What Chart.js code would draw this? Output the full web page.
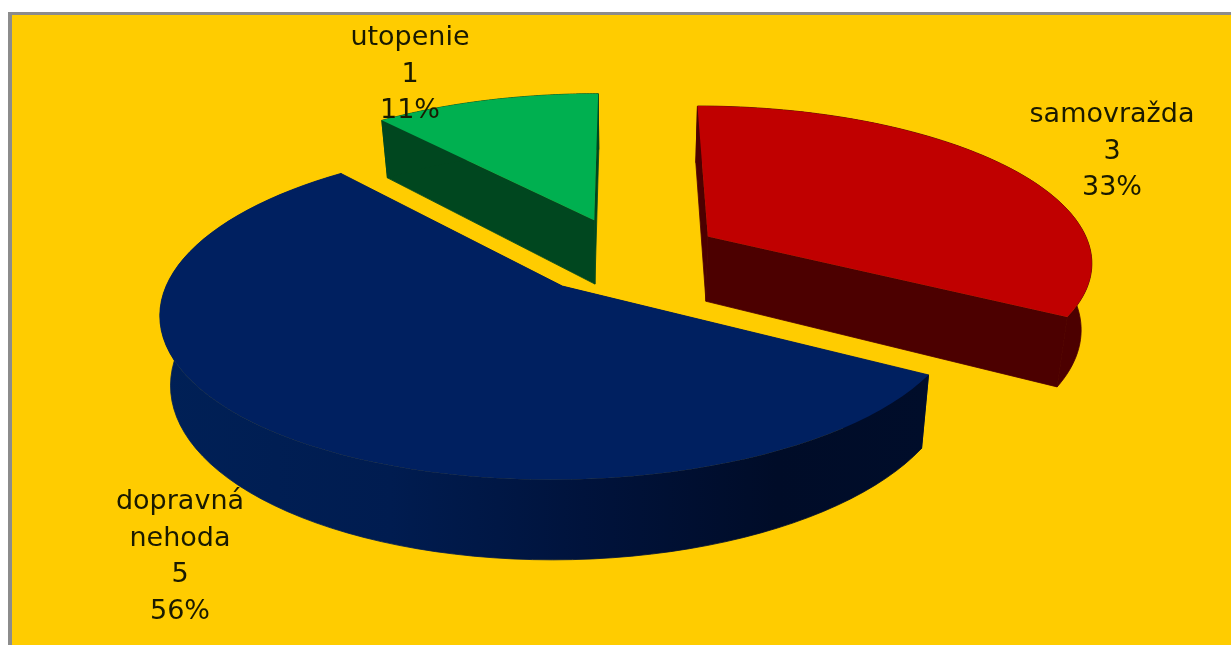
<!DOCTYPE html>
<html lang="sk">
<head>
    <meta charset="UTF-8">
    <title>Koláčový graf</title>
    <style>
        html, body { margin: 0; padding: 0; background: #fff; overflow: hidden; }
        canvas { display: block; }
    </style>
</head>
<body>
    <canvas id="graf" width="1231" height="645"></canvas>

    <script src="https://cdn.jsdelivr.net/npm/chart.js"></script>
    <script>
        const kategorie = ['samovražda', 'dopravná nehoda', 'utopenie']
        const hodnoty = [3, 5, 1]
        const farby = ['#C00000', '#002060', '#00B050']
        const farbyBoku = ['#4C0000', '#001A4E', '#00471F']

        // where each data label sits (centre x, first line y)
        const poziciePopisov = [[1112, 115], [180, 502], [410, 38]]
        const vyskaRiadku = 36.5

        // perspective view of the pie plane, fitted to the picture
        const pohlad = { x0: 626, y0: 255.5, rx: 385, ry: 155, p: 0.148, hlbka: 66, zuzenie: 0.977 }

        const premietni = (u, v, spodok) => {
            const d = 1 - pohlad.p * v
            const k = spodok ? pohlad.zuzenie : 1
            return [
                pohlad.x0 + k * pohlad.rx * u / d,
                pohlad.y0 + (pohlad.ry * v + (spodok ? pohlad.hlbka : 0)) / d
            ]
        }

        // angles and explosion come from the library's arc elements
        const obrysRezu = (arc) => {
            const r = arc.outerRadius
            const stred = (arc.startAngle + arc.endAngle) / 2
            const ou = Math.cos(stred) * arc.options.offset / r
            const ov = Math.sin(stred) * arc.options.offset / r
            const krokov = 80
            const okraj = []
            for (let i = 0; i <= krokov; i++) {
                const a = arc.startAngle + (arc.endAngle - arc.startAngle) * i / krokov
                okraj.push([ou + Math.cos(a), ov + Math.sin(a)])
            }
            return { vrchol: [ou, ov], okraj }
        }

        const vyplnCestu = (ctx, body, farba, obtiahnut) => {
            ctx.beginPath()
            body.forEach((b, i) => i ? ctx.lineTo(b[0], b[1]) : ctx.moveTo(b[0], b[1]))
            ctx.closePath()
            ctx.fillStyle = farba
            ctx.fill()
            // closes the hairline seam between neighbouring walls
            if (obtiahnut) {
                ctx.strokeStyle = farba
                ctx.lineWidth = 0.8
                ctx.stroke()
            }
        }

        const stena = (ctx, body, farba) => {
            const hore = body.map(b => premietni(b[0], b[1], false))
            const dole = body.map(b => premietni(b[0], b[1], true)).reverse()
            vyplnCestu(ctx, hore.concat(dole), farba, true)
        }

        const kolac3d = {
            id: 'kolac3d',
            beforeDraw(chart) {
                const ctx = chart.ctx
                ctx.save()
                ctx.fillStyle = '#FFFFFF'
                ctx.fillRect(0, 0, 1231, 645)
                ctx.fillStyle = '#8C8C8C'
                ctx.fillRect(8, 12, 1223, 633)
                ctx.fillStyle = '#FFCC00'
                ctx.fillRect(12, 15, 1219, 630)
                ctx.restore()
            },
            beforeDatasetDraw(chart) {
                const ctx = chart.ctx
                const arcs = chart.getDatasetMeta(0).data
                ctx.save()
                // back slices first, the big front one last
                ;[2, 0, 1].forEach(i => {
                    const arc = arcs[i]
                    const { vrchol, okraj } = obrysRezu(arc)
                    let bok = farbyBoku[i]
                    if (i === 1) {
                        bok = ctx.createLinearGradient(160, 0, 930, 0)
                        bok.addColorStop(0, '#002056')
                        bok.addColorStop(0.3, '#001C50')
                        bok.addColorStop(0.55, '#00133C')
                        bok.addColorStop(0.8, '#000C28')
                        bok.addColorStop(1, '#000D2A')
                    }
                    stena(ctx, [okraj[0], vrchol], farbyBoku[i])
                    stena(ctx, [vrchol, okraj[okraj.length - 1]], farbyBoku[i])
                    stena(ctx, okraj, bok)
                    vyplnCestu(ctx, [vrchol].concat(okraj).map(b => premietni(b[0], b[1], false)), arc.options.backgroundColor)
                })
                ctx.restore()
                return false
            },
            afterDraw(chart) {
                const ctx = chart.ctx
                const spolu = hodnoty.reduce((a, b) => a + b, 0)
                ctx.save()
                ctx.font = '27px "DejaVu Sans"'
                ctx.fillStyle = '#1A1A00'
                ctx.textAlign = 'center'
                ctx.textBaseline = 'middle'
                kategorie.forEach((nazov, i) => {
                    const riadky = nazov.split(' ').concat(String(hodnoty[i]), Math.round(hodnoty[i] / spolu * 100) + '%')
                    riadky.forEach((t, j) => {
                        ctx.fillText(t, poziciePopisov[i][0], poziciePopisov[i][1] + j * vyskaRiadku)
                    })
                })
                ctx.restore()
            }
        }

        new Chart(document.getElementById('graf'), {
            type: 'pie',
            data: {
                labels: kategorie,
                datasets: [{
                    data: hodnoty,
                    backgroundColor: farby,
                    borderWidth: 0,
                    offset: 50
                }]
            },
            options: {
                responsive: false,
                animation: false,
                radius: 200,
                plugins: {
                    legend: { display: false },
                    tooltip: { enabled: false }
                }
            },
            plugins: [kolac3d]
        })
    </script>
</body>
</html>
